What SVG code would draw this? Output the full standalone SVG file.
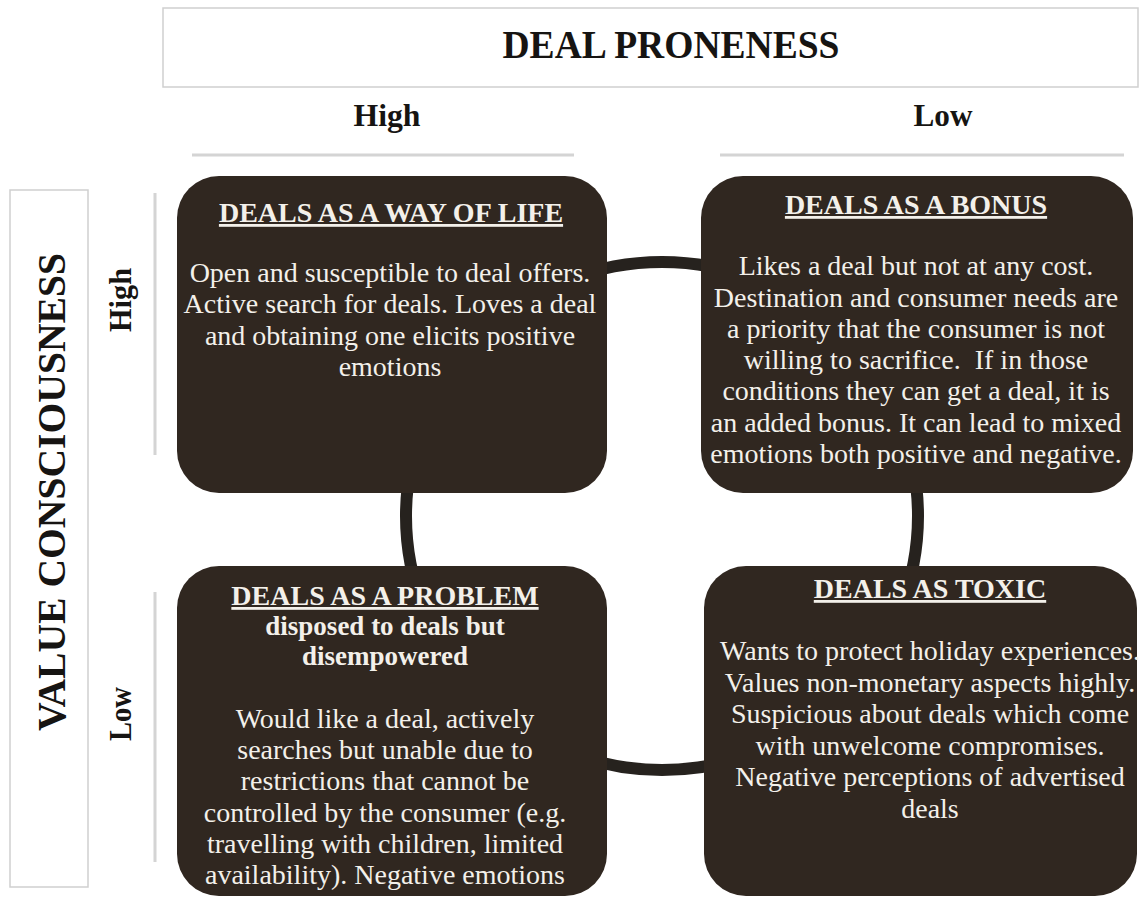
<svg xmlns="http://www.w3.org/2000/svg" width="1146" height="899" viewBox="0 0 1146 899">
<style>
.frame{fill:#fff;stroke:#cfcfcf;stroke-width:1.5}
.rule{stroke:#d4d4d4;stroke-width:3}
.hdr{font-family:"Liberation Serif",serif;font-weight:bold;fill:#161412}
.box{fill:#302720}
.t{font-family:"Liberation Serif",serif;fill:#f3f0ea;text-anchor:middle}
.ti{font-size:28px;font-weight:bold;text-decoration:underline}
.sub{font-size:27px;font-weight:bold}
.b{font-size:28px}
</style>
<rect width="1146" height="899" fill="#fff"/>
<g id="header-deal-proneness">
<rect class="frame" x="163" y="8" width="975" height="79"/>
<text class="hdr" x="671" y="58" font-size="40" text-anchor="middle" textLength="337" lengthAdjust="spacingAndGlyphs">DEAL PRONENESS</text>
<text class="hdr" x="387" y="126" font-size="31" text-anchor="middle" textLength="67" lengthAdjust="spacingAndGlyphs">High</text>
<text class="hdr" x="943" y="126" font-size="31" text-anchor="middle" textLength="59" lengthAdjust="spacingAndGlyphs">Low</text>
<line class="rule" x1="192" y1="155" x2="574" y2="155"/>
<line class="rule" x1="720" y1="155" x2="1124" y2="155"/>
</g>
<g id="header-value-consciousness">
<rect class="frame" x="10" y="190" width="78" height="697"/>
<text class="hdr" transform="translate(65,492) rotate(-90)" x="0" y="0" font-size="40" text-anchor="middle" textLength="478" lengthAdjust="spacingAndGlyphs">VALUE CONSCIOUSNESS</text>
<text class="hdr" transform="translate(131,300) rotate(-90)" x="0" y="0" font-size="31" text-anchor="middle" textLength="64" lengthAdjust="spacingAndGlyphs">High</text>
<text class="hdr" transform="translate(131,714) rotate(-90)" x="0" y="0" font-size="31" text-anchor="middle" textLength="54" lengthAdjust="spacingAndGlyphs">Low</text>
<line class="rule" x1="155" y1="193" x2="155" y2="455"/>
<line class="rule" x1="155" y1="592" x2="155" y2="862"/>
</g>
<g id="connectors">
<ellipse cx="662" cy="516" rx="256" ry="254" fill="none" stroke="#26221e" stroke-width="12"/>
</g>
<g id="deals-way-of-life">
<rect class="box" x="177" y="176" width="430" height="317" rx="42"/>
<text class="t ti" x="391" y="222">DEALS AS A WAY OF LIFE</text>
<text class="t b" x="390" y="282">Open and susceptible to deal offers.</text>
<text class="t b" x="390" y="313">Active search for deals. Loves a deal</text>
<text class="t b" x="390" y="345">and obtaining one elicits positive</text>
<text class="t b" x="390" y="376">emotions</text>
</g>
<g id="deals-bonus">
<rect class="box" x="701" y="176" width="432" height="317" rx="42"/>
<text class="t ti" x="916" y="214">DEALS AS A BONUS</text>
<text class="t b" x="916" y="275">Likes a deal but not at any cost.</text>
<text class="t b" x="916" y="307">Destination and consumer needs are</text>
<text class="t b" x="916" y="338">a priority that the consumer is not</text>
<text class="t b" x="916" y="369" xml:space="preserve">willing to sacrifice.  If in those</text>
<text class="t b" x="916" y="400">conditions they can get a deal, it is</text>
<text class="t b" x="916" y="432">an added bonus. It can lead to mixed</text>
<text class="t b" x="916" y="463">emotions both positive and negative.</text>
</g>
<g id="deals-problem">
<rect class="box" x="177" y="566" width="430" height="330" rx="42"/>
<text class="t ti" x="385" y="605">DEALS AS A PROBLEM</text>
<text class="t sub" x="385" y="635">disposed to deals but</text>
<text class="t sub" x="385" y="665">disempowered</text>
<text class="t b" x="385" y="728">Would like a deal, actively</text>
<text class="t b" x="385" y="759">searches but unable due to</text>
<text class="t b" x="385" y="790">restrictions that cannot be</text>
<text class="t b" x="385" y="822">controlled by the consumer (e.g.</text>
<text class="t b" x="385" y="853">travelling with children, limited</text>
<text class="t b" x="385" y="884">availability). Negative emotions</text>
</g>
<g id="deals-toxic">
<rect class="box" x="704" y="566" width="433" height="330" rx="42"/>
<text class="t ti" x="930" y="598">DEALS AS TOXIC</text>
<text class="t b" x="930" y="660">Wants to protect holiday experiences.</text>
<text class="t b" x="930" y="692">Values non-monetary aspects highly.</text>
<text class="t b" x="930" y="723">Suspicious about deals which come</text>
<text class="t b" x="930" y="755">with unwelcome compromises.</text>
<text class="t b" x="930" y="786">Negative perceptions of advertised</text>
<text class="t b" x="930" y="818">deals</text>
</g>
</svg>
